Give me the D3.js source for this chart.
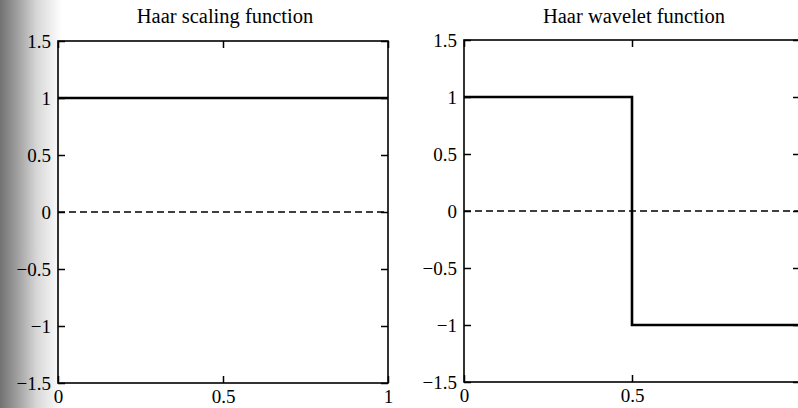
<!DOCTYPE html>
<html>
<head>
<meta charset="utf-8">
<script src="https://cdn.jsdelivr.net/npm/d3@7"></script>
<style>
  html, body { margin: 0; padding: 0; background: #fff; }
  svg { display: block; }
  text { font-family: "Liberation Serif", "DejaVu Serif", serif; fill: #000; }
</style>
</head>
<body>
<svg id="chart" width="798" height="408"></svg>
<script>
// ---- data ----
const titles = ["Haar scaling function", "Haar wavelet function"];
const xTicks = [0, 0.5, 1];
const yTicks = [-1.5, -1, -0.5, 0, 0.5, 1, 1.5];
const yTickLabels = ["\u22121.5", "\u22121", "\u22120.5", "0", "0.5", "1", "1.5"];
const xTickLabels = ["0", "0.5", "1"];
// scaling function phi(t)
const scalingX = [0, 1];
const scalingY = [1, 1];
// wavelet function psi(t)
const waveletX = [0, 0.5, 0.5, 1];
const waveletY = [1, 1, -1, -1];
// zero reference (dashed)
const zeroX = [0, 1];
const zeroY = [0, 0];

const svg = d3.select("#chart");

// scan shading at left edge
const defs = svg.append("defs");
const grad = defs.append("linearGradient").attr("id", "scan").attr("x1", "0").attr("x2", "1").attr("y1", "0").attr("y2", "0");
grad.append("stop").attr("offset", "0").attr("stop-color", "#727272");
grad.append("stop").attr("offset", "0.25").attr("stop-color", "#9a9a9a");
grad.append("stop").attr("offset", "0.6").attr("stop-color", "#d8d8d8");
grad.append("stop").attr("offset", "1").attr("stop-color", "#ffffff");
svg.append("rect").attr("x", 0).attr("y", 0).attr("width", 62).attr("height", 408).attr("fill", "url(#scan)");

const panels = [
  { x0: 58, x1: 388, y0: 41, y1: 383, title: titles[0], xs: scalingX, ys: scalingY, showLast: true },
  { x0: 464, x1: 800, y0: 40, y1: 382, title: titles[1], xs: waveletX, ys: waveletY, showLast: false }
];

panels.forEach(p => {
  const x = d3.scaleLinear().domain([0, 1]).range([p.x0, p.x1]);
  const y = d3.scaleLinear().domain([-1.5, 1.5]).range([p.y1, p.y0]);
  const g = svg.append("g");

  // title
  g.append("text").attr("x", (p.x0 + p.x1) / 2 + 2).attr("y", 23)
    .attr("text-anchor", "middle").attr("font-size", 20.5).text(p.title);

  // dashed zero line
  const line = d3.line().x(d => x(d[0])).y(d => y(d[1]));
  g.append("path").datum(zeroX.map((v, i) => [v, zeroY[i]]))
    .attr("d", line).attr("fill", "none").attr("stroke", "#000")
    .attr("stroke-width", 1.3).attr("stroke-dasharray", "7,4");

  // data line
  g.append("path").datum(p.xs.map((v, i) => [v, p.ys[i]]))
    .attr("d", line).attr("fill", "none").attr("stroke", "#000")
    .attr("stroke-width", 2.6);

  // frame
  g.append("rect").attr("x", x(0)).attr("y", y(1.5))
    .attr("width", x(1) - x(0)).attr("height", y(-1.5) - y(1.5))
    .attr("fill", "none").attr("stroke", "#000").attr("stroke-width", 1.6);

  // axes with inward ticks
  const tl = 7;
  const left = d3.axisLeft(y).tickValues(yTicks).tickSize(-tl).tickPadding(7)
    .tickFormat((d, i) => yTickLabels[i]);
  const gl = g.append("g").attr("transform", `translate(${x(0)},0)`).call(left);
  const right = d3.axisRight(y).tickValues(yTicks).tickSize(-tl).tickFormat("");
  const gr = g.append("g").attr("transform", `translate(${x(1)},0)`).call(right);
  const bottom = d3.axisBottom(x).tickValues(xTicks).tickSize(-tl).tickPadding(7)
    .tickFormat((d, i) => (i === xTicks.length - 1 && !p.showLast) ? "" : xTickLabels[i]);
  const gb = g.append("g").attr("transform", `translate(0,${y(-1.5)})`).call(bottom);
  const top = d3.axisTop(x).tickValues(xTicks).tickSize(-tl).tickFormat("");
  const gt = g.append("g").attr("transform", `translate(0,${y(1.5)})`).call(top);

  [gl, gr, gb, gt].forEach(a => {
    a.select(".domain").remove();
    a.selectAll("line").attr("stroke", "#000").attr("stroke-width", 1.5);
    a.selectAll("text").attr("font-family", "Liberation Serif, DejaVu Serif, serif")
      .attr("font-size", 19).attr("fill", "#000");
  });
  gb.selectAll("text").attr("dy", "0.71em");
});
</script>
</body>
</html>
